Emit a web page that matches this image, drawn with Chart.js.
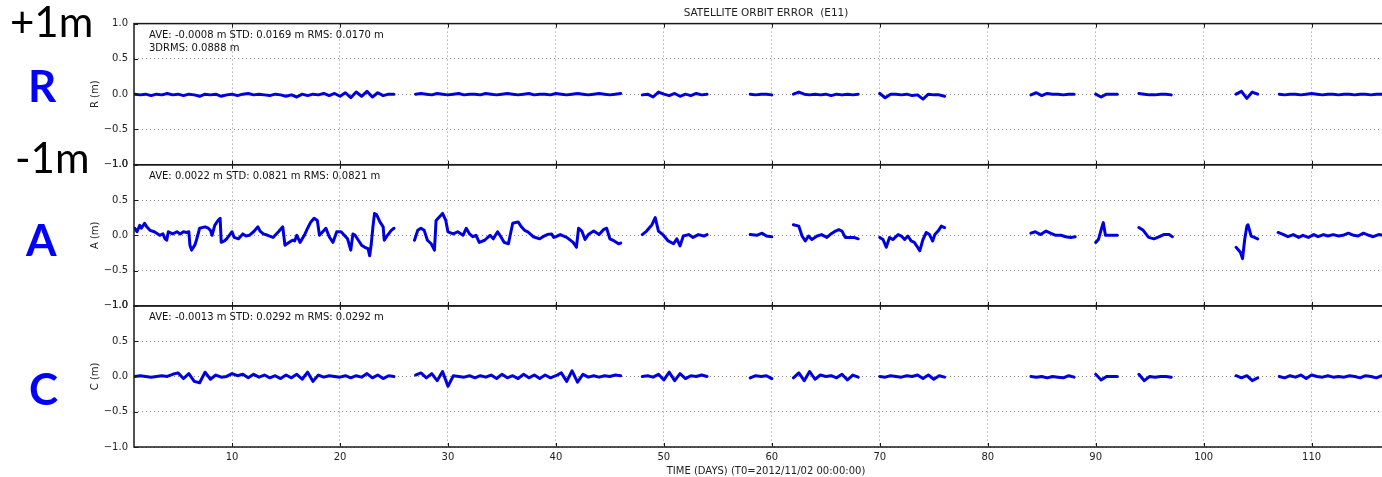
<!DOCTYPE html>
<html>
<head>
<meta charset="utf-8">
<script src="https://cdn.jsdelivr.net/npm/chart.js@4"></script>
<style>
  html, body { margin: 0; padding: 0; background: #fff; overflow: hidden; width: 1382px; height: 477px; }
  #wrap { position: relative; width: 1382px; height: 477px; overflow: hidden; }
  #orbitChart { position: absolute; left: 0; top: 0; }
  .side { position: absolute; font-family: Lato, "Open Sans", sans-serif; line-height: 1; white-space: nowrap; }
  .big { font-size: 42px; color: #000; }
  .comp { font-size: 44px; font-weight: bold; color: #0000ff; }
</style>
</head>
<body>
<div id="wrap">
  <canvas id="orbitChart" width="1420" height="477"></canvas>
  <div class="side big" style="left:10px; top:0px;">+1m</div>
  <div class="side comp" style="left:28px; top:63px;">R</div>
  <div class="side big" style="left:15px; top:136px;">-1m</div>
  <div class="side comp" style="left:26px; top:217px;">A</div>
  <div class="side comp" style="left:29px; top:366px;">C</div>
</div>
<script>
// time axis (days since T0) and tick marks
const xTicks = [10, 20, 30, 40, 50, 60, 70, 80, 90, 100, 110];
const yTicks = [-1, -0.5, 0, 0.5, 1];

// R and C are sampled every half day, one list per data arc
const segStarts = [1, 27, 48, 58, 62, 70, 84, 90, 94, 103, 107];

const rValues = [
    [0.00,-0.01,0.00,-0.02,0.00,-0.01,0.01,-0.01,0.00,-0.02,
     0.00,-0.01,-0.03,0.00,-0.01,0.00,-0.03,-0.01,0.00,-0.02,
     0.00,0.01,-0.01,0.00,-0.01,-0.02,0.00,-0.01,-0.03,-0.01,
     -0.04,0.00,-0.02,0.00,-0.01,0.01,-0.02,0.01,-0.03,0.02,
     -0.05,0.03,-0.03,0.04,-0.04,0.02,-0.02,0.00,0.00],
    [0.00,0.01,0.00,-0.01,0.01,0.00,-0.01,0.00,0.01,-0.01,
     0.00,0.00,-0.01,0.01,0.00,-0.01,0.00,0.01,0.00,-0.01,
     0.00,0.01,-0.01,0.00,0.00,-0.01,0.01,0.00,-0.01,0.00,
     0.01,0.00,-0.01,0.00,0.01,0.00,-0.01,0.00,0.01],
    [-0.01,0.00,-0.04,0.03,0.00,-0.02,0.01,-0.03,0.00,-0.02,0.01,-0.01,0.00],
    [0.00,-0.01,0.00,0.00,-0.01],
    [0.00,0.03,0.00,-0.01,0.00,-0.01,0.00,-0.02,0.00,-0.01,0.00,-0.01,0.00],
    [0.01,-0.05,0.00,0.00,-0.01,0.00,-0.02,-0.01,-0.07,0.00,-0.01,-0.01,-0.03],
    [-0.01,0.02,-0.02,0.01,0.00,0.00,-0.01,0.00,0.00],
    [0.00,-0.04,0.00,0.00,0.00],
    [0.01,0.00,-0.01,-0.01,0.00,0.00,-0.01],
    [0.00,0.04,-0.06,0.03,0.00],
    [0.00,-0.01,0.00,0.00,-0.01,0.00,0.01,0.00,-0.01,0.00,
     0.00,-0.01,0.00,0.00,-0.01,0.00,0.00,-0.01,0.00,0.00,
     -0.01,0.00,-0.01]
];

const cValues = [
    [0.00,0.01,0.00,-0.01,0.00,0.01,0.00,0.03,0.05,-0.03,
     0.04,-0.07,-0.09,0.06,-0.04,0.02,-0.01,0.00,0.04,0.01,
     0.03,-0.02,0.03,-0.01,0.02,-0.02,0.01,-0.03,0.02,-0.02,
     0.03,-0.04,0.06,-0.07,0.02,-0.01,0.01,0.00,-0.01,0.01,
     -0.02,0.01,-0.01,0.04,-0.02,0.02,-0.03,0.01,0.00],
    [0.02,0.05,-0.02,0.04,-0.06,0.07,-0.14,0.01,0.00,-0.01,
     0.01,-0.02,0.01,-0.01,0.02,-0.03,0.03,-0.02,0.01,-0.03,
     0.03,-0.02,0.02,-0.03,0.02,-0.02,0.01,0.05,-0.07,0.08,
     -0.08,0.03,-0.01,0.01,-0.01,0.01,0.00,0.02,0.01],
    [0.00,0.01,-0.01,0.03,-0.05,0.06,-0.06,0.04,-0.03,0.01,0.00,0.02,0.00],
    [-0.02,0.01,0.00,0.01,-0.03],
    [-0.02,0.05,-0.06,0.07,-0.04,0.02,0.00,0.01,-0.02,0.03,-0.05,0.02,-0.01],
    [0.00,-0.01,0.01,0.00,-0.01,0.01,0.00,0.02,-0.03,0.02,-0.04,0.01,-0.01],
    [0.00,-0.01,0.00,-0.02,0.00,-0.01,-0.02,0.01,-0.01],
    [0.03,-0.05,0.00,0.00,0.00],
    [0.03,-0.06,0.00,-0.01,0.00,0.00,-0.01],
    [0.01,-0.02,0.01,-0.06,-0.02],
    [0.00,-0.02,0.01,-0.01,0.02,-0.03,0.02,0.00,-0.01,0.01,
     -0.01,0.00,-0.01,0.01,0.00,-0.02,0.01,0.00,-0.02,0.01,
     0.00,-0.01,0.00]
];

// A has sharper structure, so it is read point by point (null = gap in data)
const aDays = [
    1.0,1.2,1.45,1.6,1.9,2.1,2.4,2.8,3.3,3.6,
    3.8,3.95,4.1,4.5,4.9,5.2,5.5,5.8,6.0,6.1,
    6.25,6.55,6.7,7.0,7.5,7.8,8.0,8.15,8.4,8.7,
    8.9,9.0,9.3,9.5,10.0,10.2,10.6,11.0,11.3,11.6,
    12.0,12.4,12.6,12.9,13.3,13.8,14.3,14.7,14.9,15.3,
    15.6,15.8,16.0,16.3,16.7,17.0,17.3,17.6,17.9,18.1,
    18.4,18.7,19.0,19.35,19.7,20.1,20.4,20.7,21.0,21.2,
    21.4,21.7,22.0,22.3,22.6,22.75,22.9,23.05,23.2,23.4,
    23.7,24.0,24.1,24.4,24.75,25.0,26,
    26.9,27.2,27.5,27.8,28.1,28.45,28.75,28.9,29.2,29.5,
    29.8,30.0,30.5,30.9,31.4,31.7,32.0,32.3,32.6,32.9,
    33.4,33.9,34.2,34.6,34.9,35.2,35.6,36.0,36.5,36.8,
    37.1,37.4,37.9,38.5,38.8,39.2,39.6,39.8,40.0,40.4,
    41.0,41.6,41.9,42.1,42.4,42.7,43.0,43.5,44.0,44.4,
    44.7,45.0,45.4,45.8,46.0,47,
    48.0,48.4,48.9,49.2,49.5,49.9,50.4,50.9,51.2,51.5,51.8,52.3,52.7,53.2,53.7,54.0,56,
    58.0,58.6,59.1,59.5,60.0,61,
    62.0,62.5,62.8,63.1,63.4,63.7,64.2,64.6,65.1,65.4,65.9,66.2,66.5,66.8,67.1,67.6,68.0,69,
    70.0,70.3,70.6,70.9,71.2,71.7,72.0,72.3,72.6,72.9,73.2,73.5,73.7,74.0,74.3,74.6,74.9,75.1,75.4,75.7,76.0,80,
    84.0,84.4,84.9,85.4,85.8,86.3,86.8,87.2,87.7,88.1,89,
    90.0,90.25,90.6,90.7,90.9,91.2,91.6,92.0,93,
    94.0,94.4,94.9,95.4,95.9,96.3,96.8,97.1,100,
    103.0,103.4,103.6,103.8,104.0,104.1,104.4,104.7,105.0,106,
    106.9,107.4,107.8,108.3,108.8,109.2,109.7,110.2,110.6,111.1,
    111.5,112.0,112.5,112.9,113.4,113.9,114.3,114.8,115.3,115.7,
    116.2,116.6,117.2,118.0
];
const aValues = [
    0.10,0.05,0.14,0.10,0.17,0.12,0.07,0.05,0.00,0.02,
    -0.05,-0.07,0.05,0.02,0.05,0.02,0.05,0.04,0.05,-0.14,
    -0.21,-0.14,-0.07,0.10,0.12,0.10,0.07,0.00,0.14,0.21,
    0.24,-0.10,-0.08,-0.05,0.05,-0.03,-0.05,0.02,-0.01,0.00,
    0.05,0.12,0.06,0.02,0.00,-0.03,0.05,0.12,-0.14,-0.10,
    -0.07,-0.08,0.00,-0.10,0.00,0.10,0.19,0.24,0.21,0.00,
    0.05,0.10,-0.02,-0.10,0.05,0.05,0.00,-0.05,-0.21,0.02,
    0.00,-0.07,-0.14,-0.17,-0.19,-0.29,-0.12,0.12,0.31,0.29,
    0.19,0.12,-0.07,0.00,0.07,0.10,null,
    -0.07,0.07,0.10,0.07,-0.07,-0.12,-0.21,0.21,0.26,0.31,
    0.21,0.05,0.02,0.05,0.00,0.10,0.02,-0.02,0.00,-0.10,
    -0.07,0.00,-0.05,0.05,-0.02,-0.10,-0.12,0.17,0.19,0.12,
    0.07,0.05,-0.02,-0.05,-0.02,0.01,0.02,-0.03,-0.02,0.01,
    -0.03,-0.10,-0.17,0.10,0.06,-0.06,0.01,0.06,0.01,0.08,
    0.10,-0.05,-0.08,-0.12,-0.11,null,
    0.01,0.06,0.15,0.25,0.06,0.01,-0.08,-0.12,-0.05,-0.15,-0.01,0.01,-0.03,0.01,-0.01,0.01,null,
    0.01,0.00,0.03,-0.01,-0.02,null,
    0.15,0.13,-0.01,-0.08,-0.01,-0.06,-0.01,0.01,-0.03,0.01,0.06,0.08,0.06,-0.03,-0.03,-0.03,-0.05,null,
    -0.03,-0.06,-0.17,-0.03,-0.06,0.01,-0.01,-0.06,-0.01,-0.08,-0.10,-0.17,-0.22,-0.06,0.04,0.01,-0.08,0.01,0.06,0.13,0.11,null,
    0.03,0.05,0.01,0.06,0.03,0.00,0.00,-0.02,-0.03,-0.02,null,
    -0.10,-0.06,0.13,0.18,0.00,0.00,0.00,0.00,null,
    0.11,0.07,-0.03,-0.05,-0.02,0.01,0.01,-0.02,null,
    -0.17,-0.24,-0.33,-0.06,0.13,0.15,-0.01,-0.03,-0.05,null,
    0.04,0.01,-0.02,0.01,-0.03,0.00,-0.03,0.01,-0.02,0.01,
    -0.01,0.01,-0.01,0.00,0.03,0.00,-0.01,0.03,0.00,-0.02,
    0.01,0.00,0.01,-0.01
];

const panelNotes = {
    yR: ['AVE: -0.0008 m STD: 0.0169 m RMS: 0.0170 m', '3DRMS: 0.0888 m'],
    yA: ['AVE: 0.0022 m STD: 0.0821 m RMS: 0.0821 m'],
    yC: ['AVE: -0.0013 m STD: 0.0292 m RMS: 0.0292 m']
};

function gridPoints(values) {
    const pts = [];
    values.forEach((seg, i) => {
        seg.forEach((v, j) => pts.push({x: segStarts[i] + j * 0.5, y: v}));
        pts.push({x: segStarts[i] + seg.length * 0.5, y: null});
    });
    return pts;
}
const aPoints = aDays.map((d, i) => ({x: d, y: aValues[i]}));

const mplFont = {family: 'DejaVu Sans', size: 10};
const lineBlue = '#0000dd';

function yAxis(title) {
    return {
        type: 'linear',
        position: 'left',
        stack: 'panels',
        stackWeight: 1,
        min: -1,
        max: 1,
        afterBuildTicks: s => { s.ticks = yTicks.map(v => ({value: v})); },
        afterFit: s => { s.width = 46; },
        ticks: {
            font: mplFont,
            color: '#222',
            padding: 6,
            autoSkip: false,
            callback: v => (v < 0 ? '\u2212' : '') + Math.abs(v).toFixed(1)
        },
        grid: {color: '#8a8a8a', lineWidth: 1, drawTicks: false},
        border: {display: false, dash: [1, 3]},
        title: {display: true, text: title, font: mplFont, color: '#222', padding: {top: 1, bottom: 0}}
    };
}

// matplotlib-like frames, inward ticks and the stats text in each panel
const framePlugin = {
    id: 'frames',
    afterDatasetsDraw(chart) {
        const ctx = chart.ctx;
        const area = chart.chartArea;
        const xs = chart.scales.x;
        Object.keys(panelNotes).forEach(id => {
            const s = chart.scales[id];
            ctx.save();
            ctx.strokeStyle = '#1a1a1a';
            ctx.lineWidth = 1.5;
            ctx.strokeRect(area.left, s.top, area.right - area.left, s.bottom - s.top);
            ctx.lineWidth = 1;
            ctx.beginPath();
            xTicks.forEach(v => {
                const px = Math.round(xs.getPixelForValue(v)) + 0.5;
                ctx.moveTo(px, s.top); ctx.lineTo(px, s.top + 4);
                ctx.moveTo(px, s.bottom); ctx.lineTo(px, s.bottom - 4);
            });
            yTicks.forEach(v => {
                const py = Math.round(s.getPixelForValue(v)) + 0.5;
                ctx.moveTo(area.left, py); ctx.lineTo(area.left + 4, py);
            });
            ctx.stroke();
            ctx.fillStyle = '#111';
            ctx.font = '10px "DejaVu Sans"';
            ctx.textBaseline = 'middle';
            panelNotes[id].forEach((t, i) => ctx.fillText(t, area.left + 15, s.top + 12 + i * 13));
            ctx.restore();
        });
    }
};

const ctxOrbit = document.getElementById('orbitChart').getContext('2d');
const orbitChart = new Chart(ctxOrbit, {
    type: 'line',
    data: {
        datasets: [
            {label: 'R', data: gridPoints(rValues), yAxisID: 'yR'},
            {label: 'A', data: aPoints, yAxisID: 'yA'},
            {label: 'C', data: gridPoints(cValues), yAxisID: 'yC'}
        ].map(d => Object.assign(d, {
            xAxisID: 'x',
            borderColor: lineBlue,
            borderWidth: 3,
            pointRadius: 0,
            spanGaps: false,
            fill: false,
            tension: 0,
            borderJoinStyle: 'round',
            borderCapStyle: 'round'
        }))
    },
    options: {
        responsive: false,
        animation: false,
        events: [],
        layout: {padding: {left: 88, right: 22, top: 0, bottom: 0}},
        plugins: {
            legend: {display: false},
            tooltip: {enabled: false},
            title: {
                display: true,
                text: 'SATELLITE ORBIT ERROR  (E11)',
                fullSize: false,
                color: '#222',
                font: {family: 'DejaVu Sans', size: 10.5, weight: 'normal'},
                padding: {top: 7, bottom: 4}
            }
        },
        scales: {
            x: {
                type: 'linear',
                min: 0.92,
                max: 118,
                afterBuildTicks: s => { s.ticks = xTicks.map(v => ({value: v})); },
                afterFit: s => { s.height = 30; },
                ticks: {font: mplFont, color: '#222', padding: 4, maxRotation: 0, autoSkip: false},
                grid: {color: '#8a8a8a', lineWidth: 1, drawTicks: false},
                border: {display: false, dash: [1, 3]},
                title: {
                    display: true,
                    text: 'TIME (DAYS) (T0=2012/11/02 00:00:00)',
                    font: mplFont,
                    color: '#222',
                    padding: {top: 0, bottom: 0}
                }
            },
            // stacked left axes are laid out bottom-up, so the top panel comes last
            yC: yAxis('C (m)'),
            yA: yAxis('A (m)'),
            yR: yAxis('R (m)')
        }
    },
    plugins: [framePlugin]
});
</script>
</body>
</html>
